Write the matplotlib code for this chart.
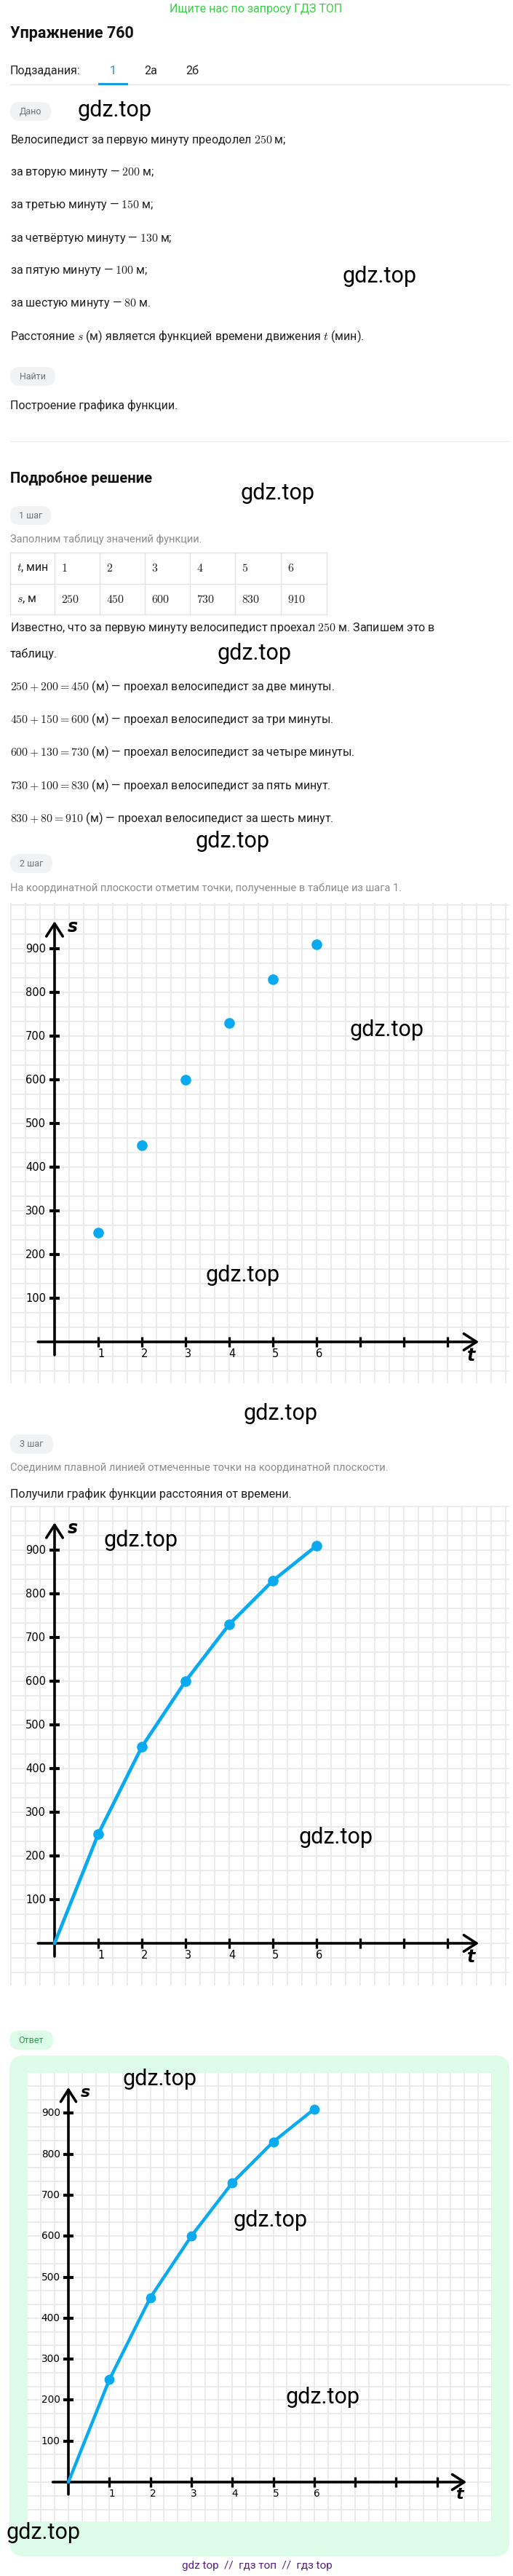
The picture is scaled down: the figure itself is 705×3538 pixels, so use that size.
import numpy as np
import matplotlib
matplotlib.use("Agg")
import matplotlib.pyplot as plt
from matplotlib.patches import FancyBboxPatch

plt.rcParams['font.family'] = ['Roboto', 'DejaVu Sans']
plt.rcParams['mathtext.fontset'] = 'cm'

# ---- data ----
minutes = [1, 2, 3, 4, 5, 6]
per_minute = [250, 200, 150, 130, 100, 80]
distance = [250, 450, 600, 730, 830, 910]
s_ticks = [100, 200, 300, 400, 500, 600, 700, 800, 900]
t_ticks = [1, 2, 3, 4, 5, 6, 7, 8, 9]
t_labels = ['1', '2', '3', '4', '5', '6']
ordinals = ['вторую', 'третью', 'четвёртую', 'пятую', 'шестую']
words = ['две минуты', 'три минуты', 'четыре минуты', 'пять минут', 'шесть минут']

W, H = 705, 3538
BLUE = '#0aaaf0'
TEXT = '#1f1f1f'
GRAY = '#8c8c8c'

fig = plt.figure(figsize=(W / 100, H / 100), dpi=100)
page = fig.add_axes([0, 0, 1, 1])
page.set_xlim(0, W)
page.set_ylim(H, 0)
page.axis('off')


def txt(x, y, s, size=11.5, color=TEXT, **kw):
    page.text(x, y, s, fontsize=size, color=color, va='center', **kw)


def pill(x, y, w, h, label, bg='#f1f2f4', fg='#707070'):
    page.add_patch(FancyBboxPatch((x, y), w, h, boxstyle='round,pad=0,rounding_size=13',
                                  fc=bg, ec='none'))
    page.text(x + w / 2, y + h / 2, label, fontsize=9, color=fg, ha='center', va='center')


def mark(x, y):
    # watermark on top of everything, figure coordinates
    fig.text(x / W, 1 - y / H, 'gdz.top', fontsize=22, color='black', va='center',
             zorder=20)


# ---- header ----
txt(352, 12, 'Ищите нас по запросу ГДЗ ТОП', size=11.5, color='#3ccd46', ha='center')
txt(14, 46, 'Упражнение 760', size=15.5, weight='bold', color='#111111')
txt(14, 97, 'Подзадания:', size=11.5)
txt(155, 97, '1', size=11.5, color='#1a8fd8', ha='center')
txt(207, 97, '2а', size=11.5, ha='center')
txt(264, 97, '2б', size=11.5, ha='center')
page.plot([14, 700], [115.5, 115.5], color='#e6e6e6', lw=1)
page.plot([136, 174], [115, 115], color='#1a9be0', lw=2.2)

# ---- given ----
pill(14, 140, 56, 26, 'Дано')
mark(107, 152)
txt(14, 192, 'Велосипедист за первую минуту преодолел $%d$ м;' % per_minute[0])
for i, (o, v) in enumerate(zip(ordinals, per_minute[1:])):
    end = '.' if i == len(ordinals) - 1 else ';'
    txt(14, 237 + 45 * i, 'за %s минуту — $%d$ м%s' % (o, v, end))
mark(470, 380)
txt(14, 462, 'Расстояние $s$ (м) является функцией времени движения $t$ (мин).')
pill(14, 504, 62, 26, 'Найти')
txt(14, 557, 'Построение графика функции.')
page.plot([14, 700], [606, 606], color='#ececec', lw=1)

# ---- solution ----
txt(14, 657, 'Подробное решение', size=14.5, weight='bold', color='#111111')
mark(330, 677)
pill(14, 695, 56, 26, '1 шаг')
txt(14, 741, 'Заполним таблицу значений функции.', size=10.5, color=GRAY)

col_x = [14, 75, 137, 199, 261, 323, 386, 449]
row_y = [759, 802, 844]
for xx in col_x:
    page.plot([xx, xx], [row_y[0], row_y[-1]], color='#e2e2e2', lw=1)
for yy in row_y:
    page.plot([col_x[0], col_x[-1]], [yy, yy], color='#e2e2e2', lw=1)
row1 = ['$t$, мин'] + ['$%d$' % m for m in minutes]
row2 = ['$s$, м'] + ['$%d$' % d for d in distance]
for j in range(7):
    txt(col_x[j] + 9, (row_y[0] + row_y[1]) / 2, row1[j], size=11.5)
    txt(col_x[j] + 9, (row_y[1] + row_y[2]) / 2, row2[j], size=11.5)

txt(14, 862, 'Известно, что за первую минуту велосипедист проехал $%d$ м. Запишем это в'
    % distance[0])
txt(14, 898, 'таблицу.')
mark(298, 897)
for i in range(5):
    txt(14, 943 + 45.3 * i, '$%d + %d = %d$ (м) — проехал велосипедист за %s.'
        % (distance[i], per_minute[i + 1], distance[i + 1], words[i]))
mark(268, 1155)
pill(14, 1173, 58, 26, '2 шаг')
txt(14, 1220, 'На координатной плоскости отметим точки, полученные в таблице из шага 1.',
    size=10.5, color=GRAY)


def chart(x0, x1, y_top, y_bot, ox, oy, unit, line=False):
    ax = fig.add_axes([x0 / W, 1 - y_bot / H, (x1 - x0) / W, (y_bot - y_top) / H])
    xl = ((x0 - ox) / unit, (x1 - ox) / unit)
    yl = ((oy - y_bot) / unit * 100, (oy - y_top) / unit * 100)
    ax.set_xlim(*xl)
    ax.set_ylim(*yl)
    ax.set_facecolor('white')
    gx = np.arange(-6, 40) / 3
    gy = np.arange(-6, 40) * 100 / 3
    ax.set_xticks(gx[(gx >= xl[0]) & (gx <= xl[1])])
    ax.set_yticks(gy[(gy >= yl[0]) & (gy <= yl[1])])
    ax.tick_params(length=0, labelbottom=False, labelleft=False)
    ax.grid(True, color='#e6e6e6', lw=1.1)
    for sp in ax.spines.values():
        sp.set_visible(False)
    k = unit / 60
    arrow = dict(arrowstyle='->,head_width=0.45,head_length=0.7', lw=2.6, color='black',
                 shrinkA=0, shrinkB=0, mutation_scale=18 * k)
    ax.annotate('', xy=(0, 963), xytext=(0, -30), arrowprops=arrow)
    ax.annotate('', xy=(9.72, 0), xytext=(-0.38, 0), arrowprops=arrow)
    ax.plot(np.zeros(len(s_ticks)), s_ticks, ls='none', marker='_', ms=10 * k, mew=3,
            color='black')
    ax.plot(t_ticks, np.zeros(len(t_ticks)), ls='none', marker='|', ms=10 * k, mew=2.4,
            color='black')
    for v in s_ticks:
        ax.text(-0.2, v, str(v), ha='right', va='center', fontsize=10.5 * k,
                family='DejaVu Sans', weight='medium')
    for m, lab in zip(t_ticks, t_labels):
        ax.text(m + 0.06, -28, lab, ha='center', va='center', fontsize=10.5 * k,
                family='DejaVu Sans')
    ax.text(0.3, 950, 's', fontsize=17 * k, style='italic', weight='bold', va='center',
            family='DejaVu Sans')
    ax.text(9.45, -12, 't', fontsize=17 * k, style='italic', weight='bold', va='top',
            family='DejaVu Sans')
    if line:
        ax.plot([0] + minutes, [0] + distance, color=BLUE, lw=3.4 * k, zorder=5,
                solid_capstyle='round')
    ax.plot(minutes, distance, 'o', color=BLUE, ms=9.5 * k, zorder=6)
    return ax


chart(14, 700, 1240, 1900, 75, 1843, 60)
mark(480, 1414)
mark(282, 1752)
mark(334, 1941)

pill(14, 1970, 59, 27, '3 шаг')
txt(14, 2016, 'Соединим плавной линией отмеченные точки на координатной плоскости.',
    size=10.5, color=GRAY)
txt(14, 2052, 'Получили график функции расстояния от времени.')
chart(14, 700, 2068, 2727, 75, 2669, 60, line=True)
mark(143, 2115)
mark(411, 2524)

# ---- answer ----
pill(13, 2789, 60, 26, 'Ответ', bg='#dcfce7', fg='#2f9a4c')
page.add_patch(FancyBboxPatch((13, 2823), 687, 688, boxstyle='round,pad=0,rounding_size=20',
                              fc='#dcfce7', ec='none'))
chart(38, 676, 2847, 3463, 94, 3409, 56.3, line=True)
mark(168, 2855)
mark(320, 3049)
mark(393, 3292)
mark(9, 3478)
txt(353, 3524, 'gdz top  //  гдз топ  //  гдз top', size=11, color='#5a2180', ha='center')

fig.savefig('out.png', dpi=100)
